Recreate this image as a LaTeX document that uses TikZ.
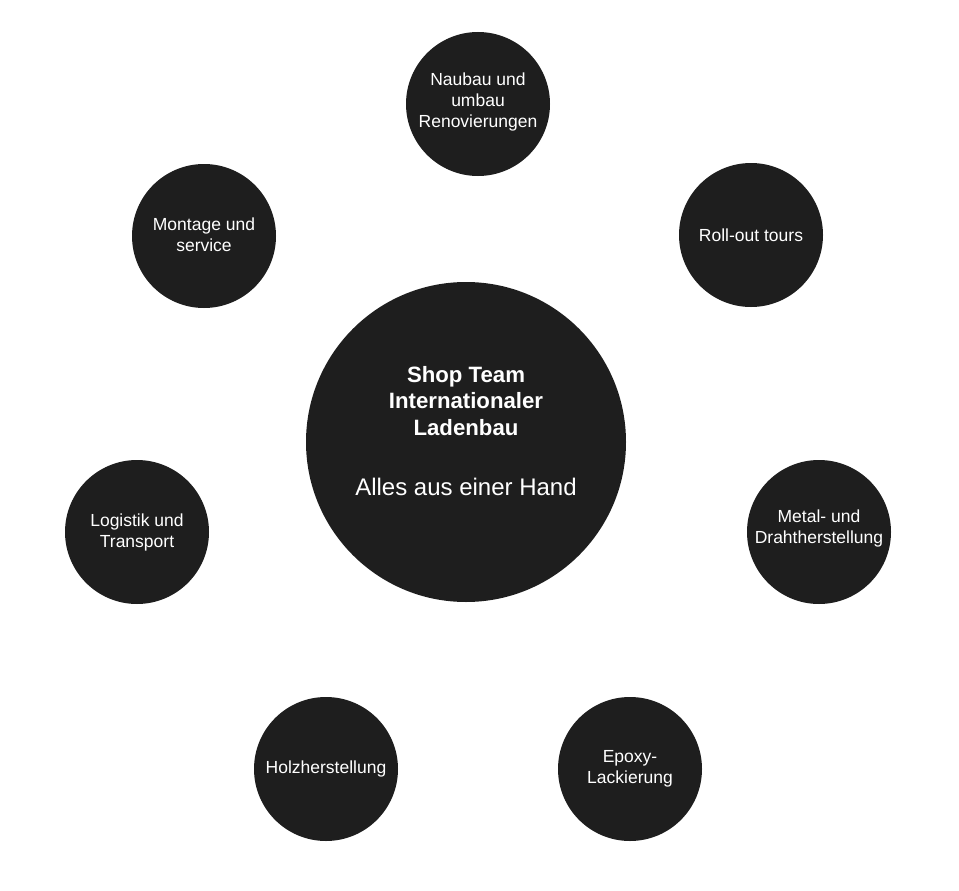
\documentclass[tikz,border=0pt]{standalone}
\usepackage{fontspec}
\setmainfont{Liberation Sans}
\definecolor{disc}{HTML}{1E1E1E}
\begin{document}
\begin{tikzpicture}[x=1pt,y=-1pt,
  small/.style={circle,fill=disc,inner sep=0pt,minimum size=144pt},
  lbl/.style={inner sep=0pt,text=white,align=center,font=\fontsize{17.5}{21}\selectfont},
  big/.style={circle,fill=disc,inner sep=0pt,minimum size=320pt},
  hubtitle/.style={anchor=base,inner sep=0pt,text=white,font=\fontsize{22.2}{26}\selectfont\bfseries},
  hubtext/.style={anchor=base,inner sep=0pt,text=white,font=\fontsize{24}{28}\selectfont}]
\useasboundingbox (0,0) rectangle (959,891);
\node[big] (hub) at (466,442) {};
\node[hubtitle] (hubA) at (466,382) {Shop Team};
\node[hubtitle] (hubB) at (466,408.5) {Internationaler};
\node[hubtitle] (hubC) at (466,435) {Ladenbau};
\node[hubtext] (hubD) at (466,495) {Alles aus einer Hand};
\node[small] (neubau) at (478,104) {};
\node[small] (rollout) at (751,235) {};
\node[small] (montage) at (204,236) {};
\node[small] (logistik) at (137,532) {};
\node[small] (metal) at (819,532) {};
\node[small] (holz) at (326,769) {};
\node[small] (epoxy) at (630,769) {};
\node[lbl] (neubauT) at ([yshift=2.5pt]neubau.center) {Naubau und\\ umbau\\ Renovierungen};
\node[lbl] (rolloutT) at (rollout.center) {Roll-out tours};
\node[lbl] (montageT) at ([yshift=1pt]montage.center) {Montage und\\ service};
\node[lbl] (logistikT) at (logistik.center) {Logistik und\\ Transport};
\node[lbl] (metalT) at ([yshift=4pt]metal.center) {Metal- und\\ Drahtherstellung};
\node[lbl] (holzT) at (holz.center) {Holzherstellung};
\node[lbl] (epoxyT) at (epoxy.center) {Epoxy-\\ Lackierung};
\end{tikzpicture}
\end{document}
